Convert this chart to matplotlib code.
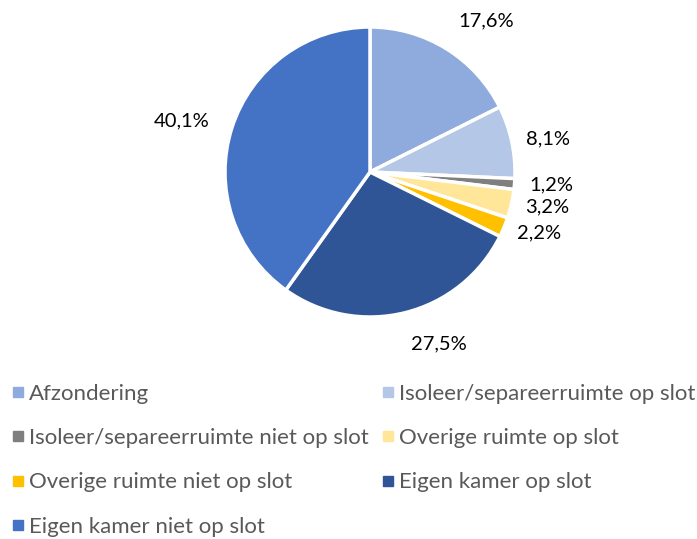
import matplotlib
matplotlib.use("Agg")
import matplotlib.pyplot as plt
from matplotlib.lines import Line2D
import numpy as np

categories = ["Afzondering", "Isoleer/separeerruimte op slot",
              "Isoleer/separeerruimte niet op slot", "Overige ruimte op slot",
              "Overige ruimte niet op slot", "Eigen kamer op slot",
              "Eigen kamer niet op slot"]
values = [17.6, 8.1, 1.2, 3.2, 2.2, 27.5, 40.1]
colors = ["#8FAADC", "#B4C7E7", "#7F7F7F", "#FFE699", "#FFC000", "#2F5597", "#4472C4"]

FONT = "Lato"
fig = plt.figure(figsize=(6.97, 5.39), dpi=100)
W, H = 697, 539
cx, cy, R = 370, 172, 145
ax = fig.add_axes([(cx - R) / W, (H - cy - R) / H, 2 * R / W, 2 * R / H])

wedges, _ = ax.pie(values, colors=colors, startangle=90, counterclock=False,
                   radius=1, wedgeprops=dict(edgecolor="white", linewidth=2.5))
ax.set_xlim(-1, 1)
ax.set_ylim(-1, 1)
ax.set_aspect("equal")
ax.axis("off")

for w, v in zip(wedges, values):
    ang = np.deg2rad((w.theta1 + w.theta2) / 2)
    c, s = np.cos(ang), np.sin(ang)
    r = 1.1 if v < 10 else 1.16
    ha = "left" if c > 0 else "right"
    if s > 0.75:
        va = "bottom"
    elif s < -0.75:
        va = "top"
    else:
        va = "center"
    ax.text(r * c, r * s, f"{v:.1f}".replace(".", ",") + "%", ha=ha, va=va,
            fontsize=14.5, family=FONT, color="#000000")

handles = [Line2D([], [], marker="s", linestyle="none", markersize=6.5,
                  markerfacecolor=col, markeredgecolor=col) for col in colors]
order = [0, 2, 4, 6, 1, 3, 5]
leg = fig.legend([handles[i] for i in order], [categories[i] for i in order],
                 ncol=2, loc="upper left", bbox_to_anchor=(-0.003, 1 - 375 / H),
                 frameon=False, prop=dict(family=FONT, size=16),
                 labelcolor="#595959", handletextpad=0.0, handlelength=1.0,
                 columnspacing=0.35, labelspacing=1.09, borderaxespad=0)
fig.savefig("out.png", dpi=100)
